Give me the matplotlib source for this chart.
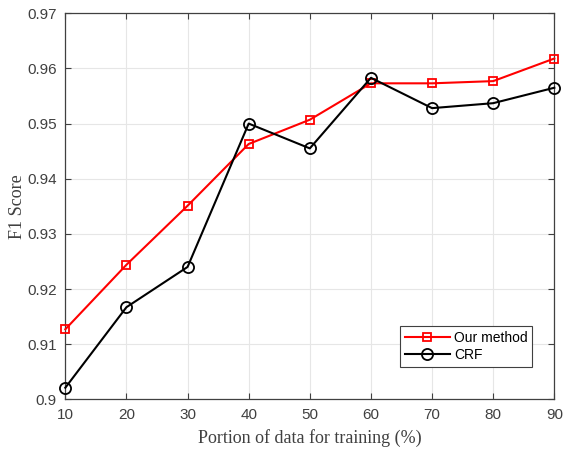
import matplotlib
matplotlib.use("Agg")
import matplotlib.pyplot as plt

x = [10, 20, 30, 40, 50, 60, 70, 80, 90]
our_method = [0.9127, 0.9244, 0.9351, 0.9463, 0.9507, 0.9573, 0.9573, 0.9577, 0.9618]
crf = [0.9021, 0.9167, 0.9240, 0.9500, 0.9455, 0.9583, 0.9528, 0.9537, 0.9565]
yticks = [0.9, 0.91, 0.92, 0.93, 0.94, 0.95, 0.96, 0.97]
ytick_labels = ["0.9", "0.91", "0.92", "0.93", "0.94", "0.95", "0.96", "0.97"]

fig = plt.figure(figsize=(5.69, 4.49), dpi=100)
ax = fig.add_axes([0.1148, 0.1107, 0.8594, 0.8597])

ax.plot(x, our_method, color="red", lw=1.5, marker="s", ms=6, mfc="none", mec="red", mew=1.3,
        label="Our method", clip_on=False, zorder=3)
ax.plot(x, crf, color="black", lw=1.5, marker="o", ms=8, mfc="none", mec="black", mew=1.3,
        label="CRF", clip_on=False, zorder=3)

ax.set_xlim(10, 90)
ax.set_ylim(0.9, 0.97)
ax.set_xticks(x)
ax.set_yticks(yticks)
ax.set_yticklabels(ytick_labels)
ax.grid(True, color="#e6e6e6", lw=0.8)
ax.set_axisbelow(True)
ax.tick_params(direction="in", top=True, right=True, length=4, color="#404040",
               labelsize=11, labelcolor="#404040", pad=6)
for lab in ax.get_xticklabels() + ax.get_yticklabels():
    lab.set_family("Liberation Sans")
for s in ax.spines.values():
    s.set_color("#404040")
    s.set_linewidth(0.9)

ax.set_xlabel("Portion of data for training (%)", family="Liberation Serif", fontsize=13, color="#404040", labelpad=5)
ax.set_ylabel("F1 Score", family="Liberation Serif", fontsize=13, color="#404040", labelpad=1)

leg = ax.legend(loc="lower right", bbox_to_anchor=(0.955, 0.0845), borderaxespad=0, frameon=True, fancybox=False,
                edgecolor="#404040", framealpha=1, handlelength=3.2, borderpad=0.35,
                labelspacing=0.2, handletextpad=0.3, prop={"family": "Liberation Sans", "size": 10})
leg.get_frame().set_linewidth(0.8)

fig.savefig("out.png", dpi=100)
